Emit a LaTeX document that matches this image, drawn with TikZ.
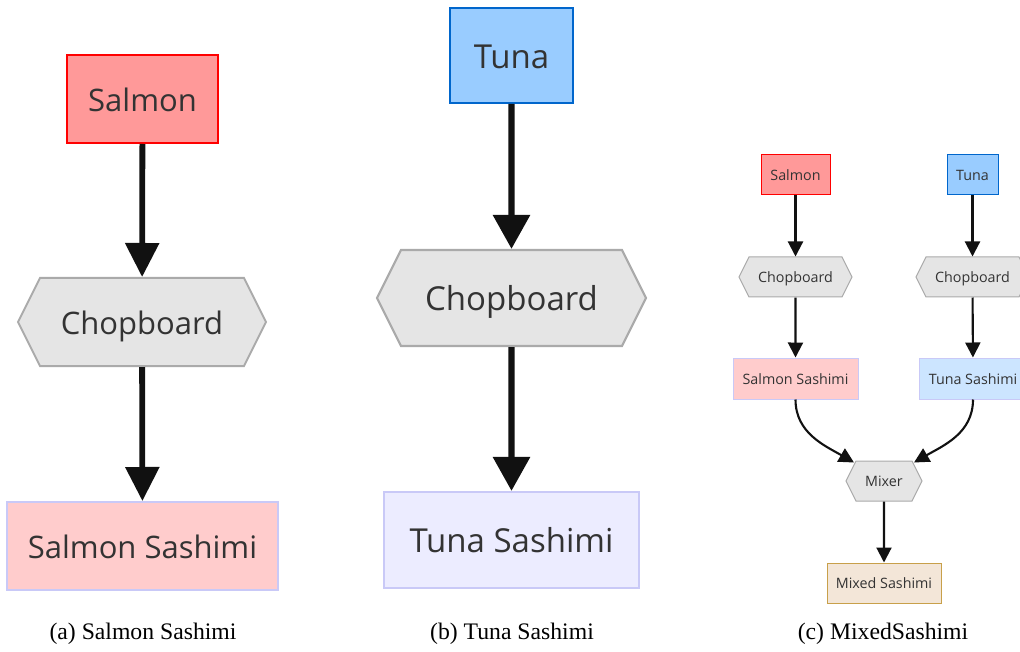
\documentclass[tikz,border=0pt]{standalone}
\usepackage{fontspec}
\setmainfont{Liberation Serif}
\newfontfamily\boxfont{Open Sans}
\usetikzlibrary{arrows.meta, shapes.symbols}
\definecolor{salmonfill}{HTML}{FF9999}
\definecolor{salmonline}{HTML}{FF0000}
\definecolor{tunafill}{HTML}{99CCFF}
\definecolor{tunaline}{HTML}{0066CC}
\definecolor{hexfill}{HTML}{E5E5E5}
\definecolor{hexline}{HTML}{AAAAAA}
\definecolor{sashline}{HTML}{C9C9F7}
\definecolor{salsashfill}{HTML}{FFCCCC}
\definecolor{tunsashfill}{HTML}{ECECFF}
\definecolor{tunsashfillc}{HTML}{CCE5FF}
\definecolor{mixfill}{HTML}{F3E6D8}
\definecolor{mixline}{HTML}{C8A04A}
\definecolor{boxtext}{HTML}{333333}
\definecolor{edgeblack}{HTML}{111111}

\begin{document}
\begin{tikzpicture}[x=1pt, y=-1pt, text=boxtext,
	rawbox/.style={draw, rectangle, inner sep=0pt},
	cutbox/.style={draw=hexline, fill=hexfill, shape=signal, signal to=east and west,
		signal pointer angle=126.87, inner sep=0pt},
	bigtext/.style={font=\boxfont\fontsize{#1}{#1}\selectfont, text height=0.9*#1pt, text depth=0.12*#1pt},
	fatedge/.style={draw=edgeblack, line width=5.8pt, -{Triangle[length=34pt,width=33pt]}},
	thinedge/.style={draw=edgeblack, line width=2.1pt, -{Triangle[length=15pt,width=15pt]}},
	caption/.style={font=\fontsize{23.7}{28}\selectfont, text=black}]
	\useasboundingbox (0,0) rectangle (1020,652);
	\clip (0,0) rectangle (1020,652);
	
	\node[rawbox, draw=salmonline, fill=salmonfill, line width=2pt, minimum width=151pt, minimum height=88pt, bigtext=31] (salA) at (142.5,99) {Salmon};
	\node[cutbox, line width=2pt, minimum width=248pt, minimum height=88pt, bigtext=31] (chopA) at (142,322) {Chopboard};
	\node[rawbox, draw=sashline, fill=salsashfill, line width=2pt, minimum width=271pt, minimum height=88pt, bigtext=31] (sashA) at (142.5,546) {Salmon Sashimi};
	\draw[fatedge] (salA) -- (chopA);
	\draw[fatedge] (chopA) -- (sashA);
	\node[caption] (capA) at (143,634) {(a) Salmon Sashimi};
	
	\node[rawbox, draw=tunaline, fill=tunafill, line width=2pt, minimum width=123pt, minimum height=95pt, bigtext=33] (tunB) at (511.5,55.5) {Tuna};
	\node[cutbox, line width=2.2pt, minimum width=269pt, minimum height=96pt, bigtext=33] (chopB) at (511.5,298) {Chopboard};
	\node[rawbox, draw=sashline, fill=tunsashfill, line width=2.2pt, minimum width=255pt, minimum height=96pt, bigtext=33] (sashB) at (511.5,540) {Tuna Sashimi};
	\draw[fatedge, line width=6.2pt, -{Triangle[length=34pt,width=36pt]}] (tunB) -- (chopB);
	\draw[fatedge, line width=6.2pt, -{Triangle[length=34pt,width=36pt]}] (chopB) -- (sashB);
	\node[caption] (capB) at (512,634) {(b) Tuna Sashimi};
	
	\node[rawbox, draw=salmonline, fill=salmonfill, line width=1pt, minimum width=69pt, minimum height=40pt, bigtext=14.3] (salC) at (795.5,175) {Salmon};
	\node[rawbox, draw=tunaline, fill=tunafill, line width=1pt, minimum width=51pt, minimum height=40pt, bigtext=14.3] (tunC) at (972.5,175) {Tuna};
	\node[cutbox, line width=1pt, minimum width=113pt, minimum height=40pt, bigtext=14.3] (chopCL) at (795.5,277) {Chopboard};
	\node[cutbox, line width=1pt, minimum width=113pt, minimum height=40pt, bigtext=14.3] (chopCR) at (972.5,277) {Chopboard};
	\node[rawbox, draw=sashline, fill=salsashfill, line width=1pt, minimum width=125pt, minimum height=41pt, bigtext=14.3] (sashCL) at (795.5,378.5) {Salmon Sashimi};
	\node[rawbox, draw=sashline, fill=tunsashfillc, line width=1pt, minimum width=108pt, minimum height=41pt, bigtext=14.3] (sashCR) at (973,378.5) {Tuna Sashimi};
	\node[cutbox, line width=1pt, minimum width=76pt, minimum height=40pt, bigtext=14.3] (mixC) at (884,481) {Mixer};
	\node[rawbox, draw=mixline, fill=mixfill, line width=1pt, minimum width=114pt, minimum height=40pt, bigtext=14.3] (mixsashC) at (884,583) {Mixed Sashimi};
	\draw[thinedge] (salC) -- (chopCL);
	\draw[thinedge] (tunC) -- (chopCR);
	\draw[thinedge] (chopCL) -- (sashCL);
	\draw[thinedge] (chopCR) -- (sashCR);
	\draw[thinedge] (sashCL.south) to[out=-90, in=150] ([shift={(-30pt,-2pt)}]mixC.north);
	\draw[thinedge] (sashCR.south) to[out=-90, in=30] ([shift={(30pt,-2pt)}]mixC.north);
	\draw[thinedge] (mixC) -- (mixsashC);
	\node[caption] (capC) at (883,634) {(c) MixedSashimi};
\end{tikzpicture}
\end{document}
